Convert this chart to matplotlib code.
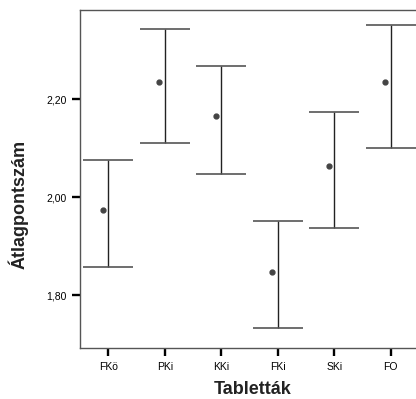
import matplotlib.pyplot as plt

# Tabletták - átlag és 95%-os konfidencia intervallum
categories = ["FKö", "PKi", "KKi", "FKi", "SKi", "FO"]
means = [1.974, 2.235, 2.165, 1.847, 2.064, 2.235]
lower = [1.858, 2.110, 2.048, 1.733, 1.937, 2.100]
upper = [2.076, 2.344, 2.268, 1.952, 2.174, 2.352]

plt.rcParams['font.family'] = ['Liberation Sans', 'DejaVu Sans']

fig = plt.figure(figsize=(4.16, 3.99), dpi=100)
ax = fig.add_axes([80 / 416, 1 - 348 / 399, 339 / 416, 338 / 399])

x = list(range(len(categories)))
for i in x:
    ax.vlines(i, lower[i], upper[i], color="#222222", lw=1)
    ax.hlines([lower[i], upper[i]], i - 0.44, i + 0.44, color="#555555", lw=1.2)
    # SPSS puts the mean marker slightly left of the bar
    ax.plot(i - 0.1, means[i], 'o', color="#444444", ms=3.5)

ax.set_xlim(-0.5, 5.5)
ax.set_ylim(1.692, 2.382)
ax.set_xticks(x)
ax.set_xticklabels(categories, fontsize=7.5)
ax.set_yticks([1.8, 2.0, 2.2])
ax.set_yticklabels(["1,80", "2,00", "2,20"], fontsize=7.5)
ax.tick_params(length=5.8, width=1.7, color="black", pad=4)

for s in ax.spines.values():
    s.set_color("#555555")
    s.set_linewidth(1)

fig.text(18 / 416, 1 - 204 / 399, "Átlagpontszám", rotation=90, ha="center", va="center",
         fontsize=13, fontweight="bold", color="#222222")
fig.text(253 / 416, 1 - 390 / 399, "Tabletták", ha="center", va="center",
         fontsize=13, fontweight="bold", color="#222222")

fig.savefig("out.png", dpi=100)
